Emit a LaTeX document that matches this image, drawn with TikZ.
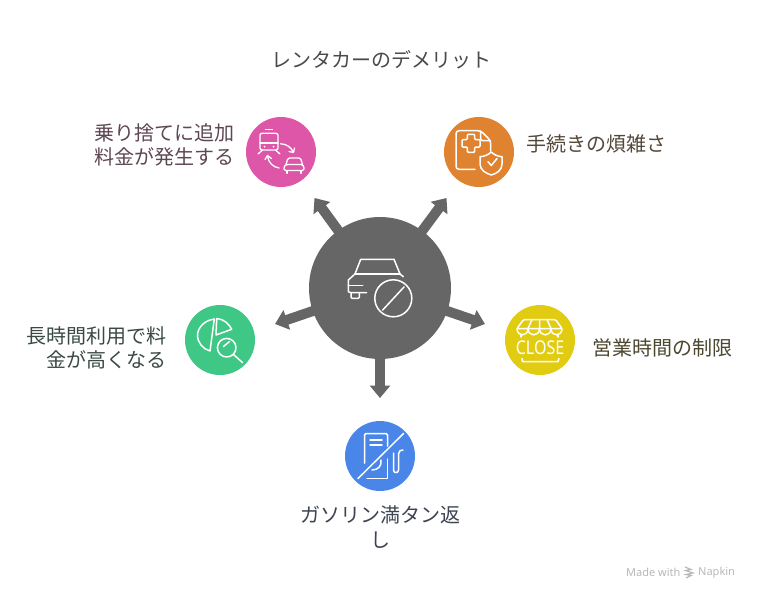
\documentclass[tikz,border=0pt]{standalone}
\usepackage{fontspec}
\setmainfont{Noto Sans CJK JP}
\newfontfamily\latinf{Noto Sans}
\usetikzlibrary{arrows.meta}
\definecolor{hubc}{HTML}{666666}
\definecolor{pinkc}{HTML}{DE56A8}
\definecolor{orangec}{HTML}{DF8330}
\definecolor{yellowc}{HTML}{E2CC12}
\definecolor{bluec}{HTML}{4A86E8}
\definecolor{greenc}{HTML}{3EC785}
\definecolor{txtt}{HTML}{4A4A4A}
\definecolor{txtp}{HTML}{5E4654}
\definecolor{txto}{HTML}{54483A}
\definecolor{txty}{HTML}{4C4830}
\definecolor{txtg}{HTML}{3A4A42}
\definecolor{txtb}{HTML}{3E4452}
\definecolor{wmc}{HTML}{B8B8B8}
\tikzset{
 x=1pt,y=-1pt,
 disc/.style={circle,minimum size=70pt,inner sep=0pt,outer sep=0pt,fill=#1},
 spoke/.style={draw=hubc,line width=10pt,shorten <=-3pt,-{Triangle[length=12.5pt,width=20pt]}},
 lab/.style={font=\fontsize{20pt}{24.5pt}\selectfont,inner sep=0pt,text=#1},
 wm/.style={font=\latinf\fontsize{11pt}{12pt}\selectfont,text=wmc,inner sep=0pt,anchor=west},
 ico/.style={draw=white,line width=1.5pt,line cap=round,line join=round},
 icot/.style={draw=white,line width=1.3pt,line cap=round,line join=round},
}
\begin{document}
\begin{tikzpicture}
\useasboundingbox (0,0) rectangle (758,600);
\fill[white] (0,0) rectangle (758,600);
% hub and spokes
\coordinate (tipP) at (314.5,198);
\coordinate (tipO) at (446.5,198);
\coordinate (tipG) at (275,324);
\coordinate (tipY) at (485,324);
\coordinate (tipB) at (380,398);
\node[circle,minimum size=142pt,inner sep=0pt,outer sep=0pt,fill=hubc] (hub) at (380,288) {};
\draw[spoke] (hub) -- (tipP);
\draw[spoke] (hub) -- (tipO);
\draw[spoke] (hub) -- (tipG);
\draw[spoke] (hub) -- (tipY);
\draw[spoke] (hub) -- (tipB);
% discs
\node[disc=pinkc] (pink) at (281,152) {};
\node[disc=orangec] (orange) at (479,152) {};
\node[disc=greenc] (green) at (220,340) {};
\node[disc=yellowc] (yellow) at (540,340) {};
\node[disc=bluec] (blue) at (380,456) {};
% labels
\node[lab=txtt] (title) at (381,60) {レンタカーのデメリット};
\node[lab=txtp,align=right,anchor=east] (lp) at (235,145) {乗り捨てに追加\\料金が発生する};
\node[lab=txto,anchor=west] (lo) at (526.5,144) {手続きの煩雑さ};
\node[lab=txty,anchor=west] (ly) at (592.5,348) {営業時間の制限};
\node[lab=txtg,align=right,anchor=east] (lg) at (167,348) {長時間利用で料\\金が高くなる};
\node[lab=txtb,align=center] (lb) at (380,527) {ガソリン満タン返\\し};
% watermark
\node[wm] (wm1) at (626,572.5) {Made with};
\node[wm] (wm2) at (698,572.5) {Napkin};
\draw[draw=wmc,line width=1.2pt] (685,567) -- (691,569.5) -- (685.5,570.5) -- (693,573) -- (686,574.5) -- (691,575.5) -- (686,578);
% hub icon: car + prohibition
\draw[ico] (355,274) -- (360.7,259.3) -- (394,259.3) -- (400,274) -- (403.3,276.7);
\draw[ico] (355,274) -- (400,274);
\draw[ico] (355,274) -- (348.3,280) -- (348.3,291.7) -- (351,292.7) -- (366.7,292.7);
\draw[ico] (348.3,285.7) -- (362.7,285.7);
\draw[ico,rounded corners=1pt] (351,292.7) -- (351,298.3) -- (359.3,298.3) -- (359.3,292.7);
\draw[ico] (393.3,298.3) circle[radius=18.5];
\draw[ico] (382.7,310) -- (404,287);
% pink icon: train, car, arrows
\draw[icot,rounded corners=2pt] (260,133.3) rectangle (278,150);
\draw[icot] (265.5,129.5) -- (272.5,129.5) (260,143) -- (278,143);
\draw[icot] (258,154) -- (262.5,150) (280,154) -- (275.5,150);
\fill[white] (264.5,146.5) circle[radius=1] (273.5,146.5) circle[radius=1];
\draw[icot] (280.5,143.8) .. controls (286,143.8) and (291,147) .. (293.3,152);
\draw[icot] (289,151.5) -- (293.5,152.5) -- (294.5,148);
\draw[icot] (279,168) .. controls (273,167) and (268.5,163) .. (267.5,156);
\draw[icot] (265,159.5) -- (267.5,155.5) -- (271.5,158.5);
\draw[icot,rounded corners=1.5pt] (286,164.5) -- (288,158) -- (300.5,158) -- (302.5,164.5);
\draw[icot,rounded corners=1.5pt] (284,170.5) -- (284,166.5) -- (286,164.5) -- (302.5,164.5) -- (304,166.5) -- (304,170.5) -- cycle;
\draw[icot] (287,170.5) -- (287,173.3) (301,170.5) -- (301,173.3);
% orange icon: document + shield
\draw[ico,rounded corners=3pt] (475,169.3) -- (456,169.3) -- (456,130.7) -- (480.7,130.7) -- (490.7,140.7) -- (490.7,151);
\draw[ico,rounded corners=2pt] (480.7,131) -- (480.7,140.7) -- (490.5,140.7);
\draw[ico,rounded corners=1pt] (467.3,134.3) -- (474.7,134.3) -- (474.7,139.6) -- (480,139.6) -- (480,147) -- (474.7,147) -- (474.7,152.3) -- (467.3,152.3) -- (467.3,147) -- (462,147) -- (462,139.6) -- (467.3,139.6) -- cycle;
\draw[ico] (491.3,152) .. controls (488,155) and (484,156.5) .. (480,156.7) -- (480,164) .. controls (480,170) and (486,173.5) .. (491.3,175) .. controls (497,173.5) and (502,170) .. (502,164) -- (502,156.7) .. controls (498,156.5) and (494.5,155) .. (491.3,152) -- cycle;
\draw[ico] (488,161.7) -- (491.3,165.5) -- (497,158.5);
% green icon: pie + magnifier
\draw[ico] (214.3,319) .. controls (201,321) and (197.5,331) .. (197.5,335) .. controls (197.5,343) and (203,349) .. (210,351) -- cycle;
\draw[ico] (216.7,318.5) .. controls (224,319) and (229,324) .. (231.7,329.3) -- (216,335) -- cycle;
\draw[ico] (226.7,347.7) circle[radius=9.3];
\draw[ico] (233.5,354.5) -- (242.7,362.7);
\draw[ico] (223.5,346.5) -- (229.5,341.5);
% yellow icon: awning + CLOSE
\draw[ico,rounded corners=1.5pt] (523.5,319.5) -- (555.5,319.5) -- (562,328.5) -- (517,328.5) -- cycle;
\draw[ico] (517,328.5) .. controls (517,337) and (528,337) .. (528,328.5) .. controls (528,337) and (539.5,337) .. (539.5,328.5) .. controls (539.5,337) and (551,337) .. (551,328.5) .. controls (551,337) and (562,337) .. (562,328.5);
\draw[ico] (532,319.5) -- (528,328.5) (547,319.5) -- (551,328.5) (539.5,319.5) -- (539.5,328.5);
\draw[ico] (521,335) -- (521,337) (558,335) -- (558,337);
\node[font=\latinf\bfseries\fontsize{19pt}{19pt}\selectfont,text=white,inner sep=0pt,xscale=.84,transform shape] (closet) at (540,347.5) {CLOSE};
\draw[ico] (522,358.5) -- (522.5,361.5) -- (558,361.5) -- (559,358.5);
% blue icon: pump + slash
\draw[ico,rounded corners=1.5pt] (364.5,463) -- (364.5,433.5) -- (387.5,433.5) -- (387.5,446);
\draw[ico] (387.5,459) -- (387.5,478.5) -- (367,478.5);
\draw[ico] (370,440) -- (382,440) (370,445) -- (382,445);
\draw[ico] (358,478.5) -- (403.5,433.5);
\draw[ico] (381,460) .. controls (382,466) and (378,470) .. (372,470);
\draw[ico] (393.5,453) -- (393.5,470) .. controls (393.5,473.5) and (398.5,473.5) .. (398.5,470) -- (398.5,454) .. controls (398.5,451) and (401,449.5) .. (403,450);
\end{tikzpicture}
\end{document}
